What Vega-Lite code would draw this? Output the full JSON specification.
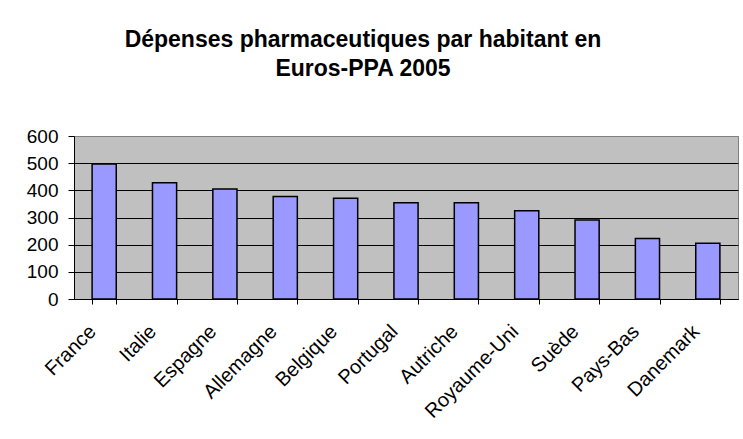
{
  "$schema": "https://vega.github.io/schema/vega-lite/v6.json",
  "width": 664,
  "height": 163,
  "autosize": {"type": "none"},
  "padding": {"left": 74, "top": 136, "right": 5, "bottom": 140},
  "background": "white",
  "title": {
    "text": ["Dépenses pharmaceutiques par habitant en", "Euros-PPA 2005"],
    "font": "Liberation Sans",
    "fontSize": 23,
    "fontWeight": "bold",
    "color": "black",
    "anchor": "middle",
    "frame": "group",
    "dx": -43,
    "lineHeight": 29,
    "offset": 46
  },
  "data": {
    "values": [
      {"pays": "France", "valeur": 497},
      {"pays": "Italie", "valeur": 428},
      {"pays": "Espagne", "valeur": 405},
      {"pays": "Allemagne", "valeur": 377},
      {"pays": "Belgique", "valeur": 371},
      {"pays": "Portugal", "valeur": 354},
      {"pays": "Autriche", "valeur": 354},
      {"pays": "Royaume-Uni", "valeur": 325},
      {"pays": "Suède", "valeur": 291},
      {"pays": "Pays-Bas", "valeur": 223},
      {"pays": "Danemark", "valeur": 205}
    ]
  },
  "mark": {"type": "bar", "fill": "#9999FF", "stroke": "black", "strokeWidth": 1.5},
  "encoding": {
    "x": {
      "field": "pays",
      "type": "nominal",
      "sort": null,
      "scale": {"paddingInner": 0.6, "paddingOuter": 0.3},
      "axis": {
        "title": null,
        "labelAngle": -45,
        "labelAlign": "right",
        "labelBaseline": "top",
        "labelFont": "Liberation Sans",
        "labelFontSize": 20,
        "labelColor": "black",
        "labelPadding": 17,
        "labelOffset": -19,
        "labelOverlap": false,
        "tickBand": "extent",
        "tickColor": "black",
        "tickSize": 5,
        "domainColor": "black",
        "domainWidth": 1,
        "grid": false
      }
    },
    "y": {
      "field": "valeur",
      "type": "quantitative",
      "scale": {"domain": [0, 600]},
      "axis": {
        "title": null,
        "values": [0, 100, 200, 300, 400, 500, 600],
        "labelFont": "Liberation Sans",
        "labelFontSize": 19,
        "labelColor": "black",
        "labelPadding": 10,
        "labelOverlap": false,
        "tickColor": "black",
        "tickSize": 6,
        "domainColor": "black",
        "grid": true,
        "gridColor": {"condition": {"test": "datum.value == 600", "value": "#808080"}, "value": "black"},
        "gridWidth": 1
      }
    }
  },
  "config": {
    "view": {"fill": "#C0C0C0", "stroke": "#808080", "strokeWidth": 1}
  }
}
